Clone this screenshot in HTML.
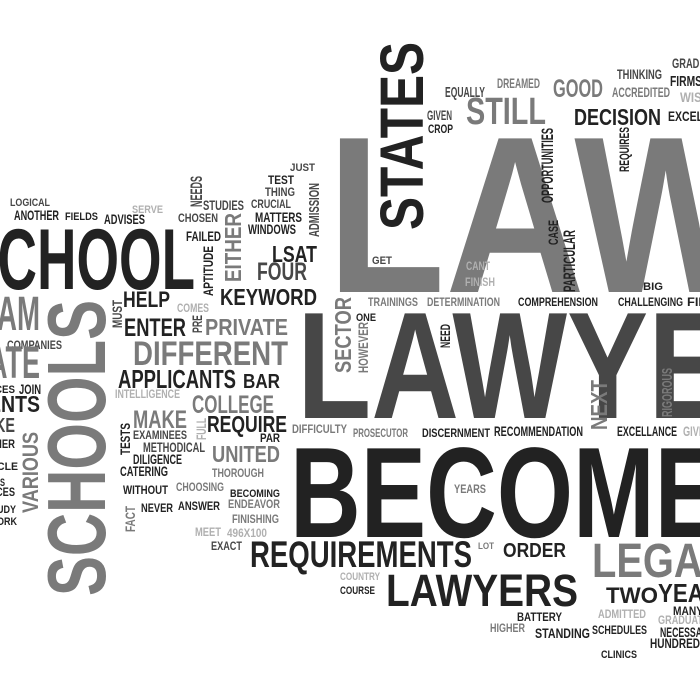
<!DOCTYPE html>
<html><head><meta charset="utf-8"><style>
html,body{margin:0;padding:0;background:#fff;width:700px;height:700px;overflow:hidden}
svg{display:block}
text{font-family:"Liberation Sans Narrow","Liberation Sans",sans-serif;font-weight:bold}
</style></head><body>
<svg id="cloud" width="700" height="700" viewBox="0 0 700 700" xmlns="http://www.w3.org/2000/svg">
<rect width="700" height="700" fill="#fff"/>
</svg>
<script>
// [text, x, y, w, h, colorKey, rotated]
const words = [
["LAW",327,129,430,163,"m",0],
["LAWYER",297,307,520,111,"d",0],
["BECOME",290,443,430,94,"k",0],
["STATES",378,42,45,188,"k",1],
["SCHOOL",-39,226,234,63,"k",0],
["SCHOOLS",45,300,60,296,"m",1],
["REQUIREMENTS",250,540,222,27,"k",0],
["LAWYERS",386,573,192,33,"k",0],
["LEGAL",592,542,135,35,"m",0],
["DIFFERENT",133,340,155,25,"m",0],
["APPLICANTS",118,369,118,19,"k",0],
["KEYWORD",220,288,97,17,"k",0],
["PRIVATE",205,318,83,17,"m",0],
["ENTER",124,318,62,18,"k",0],
["HELP",123,291,47,16,"k",0],
["FOUR",257,262,50,18,"d",0],
["LSAT",272,245,45,17,"k",0],
["EITHER",224,213,17,69,"m",1],
["COLLEGE",192,395,82,18,"m",0],
["BAR",243,373,37,15,"k",0],
["REQUIRE",207,415,80,17,"k",0],
["UNITED",212,445,68,17,"m",0],
["MAKE",133,410,54,18,"m",0],
["ORDER",503,542,63,15,"k",0],
["TWO",606,587,52,16,"k",0],
["YEAR",658,583,62,19,"k",0],
["STILL",466,96,80,28,"m",0],
["DECISION",574,108,87,17,"k",0],
["GOOD",553,79,50,18,"m",0],
["NEXT",590,380,17,50,"m",1],
["SECTOR",334,297,17,76,"m",1],
["DISCERNMENT",422,428,68,9,"k",0],
["RECOMMENDATION",494,426,89,10,"k",0],
["EXCELLANCE",617,426,60,10,"k",0],
["PROSECUTOR",353,428,55,9,"m",0],
["DIFFICULTY",292,424,55,9,"m",0],
["BATTERY",517,612,45,9,"k",0],
["SCHEDULES",592,625,55,9,"k",0],
["STANDING",535,628,55,10,"k",0],
["TRAININGS",368,297,50,9,"m",0],
["DETERMINATION",427,297,73,9,"m",0],
["COMPREHENSION",518,297,80,9,"k",0],
["CHALLENGING",618,297,65,9,"k",0],
["FIE",687,297,20,9,"k",0],
["FIELDS",65,212,33,8,"k",0],
["ANOTHER",14,210,45,10,"k",0],
["LOGICAL",10,198,40,8,"d",0],
["ADVISES",104,214,41,10,"k",0],
["SERVE",132,205,31,8,"l",0],
["NEEDS",190,176,12,31,"d",1],
["STUDIES",203,200,41,10,"d",0],
["CHOSEN",178,213,40,9,"d",0],
["FAILED",186,231,35,10,"k",0],
["WINDOWS",248,224,48,10,"k",0],
["MATTERS",255,212,47,10,"k",0],
["CRUCIAL",251,199,40,9,"d",0],
["THING",265,187,30,9,"d",0],
["TEST",268,175,26,9,"k",0],
["JUST",290,163,25,8,"d",0],
["ADMISSION",308,183,11,54,"d",1],
["APTITUDE",203,246,10,50,"k",1],
["COMES",177,303,32,9,"l",0],
["MUST",112,300,10,28,"d",1],
["PRE",192,315,10,18,"d",1],
["INTELLIGENCE",115,389,65,9,"l",0],
["EXAMINEES",133,430,54,9,"d",0],
["FULL",196,418,10,22,"l",1],
["TESTS",120,423,10,32,"k",1],
["PAR",260,433,20,9,"k",0],
["METHODICAL",143,442,62,10,"d",0],
["DILIGENCE",133,454,49,10,"k",0],
["CATERING",120,466,48,10,"k",0],
["THOROUGH",212,468,52,9,"m",0],
["WITHOUT",123,485,45,9,"k",0],
["CHOOSING",176,482,48,9,"m",0],
["BECOMING",230,489,50,8,"k",0],
["NEVER",141,503,32,9,"k",0],
["ANSWER",178,501,42,9,"k",0],
["ENDEAVOR",228,499,52,9,"m",0],
["FACT",125,506,10,26,"m",1],
["FINISHING",232,514,47,9,"m",0],
["MEET",195,527,26,9,"l",0],
["496X100",227,528,40,9,"l",0],
["EXACT",211,541,31,9,"d",0],
["YEARS",454,484,32,9,"m",0],
["LOT",478,542,16,7,"m",0],
["COUNTRY",340,572,40,8,"l",0],
["COURSE",340,586,35,8,"k",0],
["HIGHER",490,623,35,9,"m",0],
["ADMITTED",598,609,48,9,"l",0],
["CLINICS",601,650,36,8,"k",0],
["HUNDRED",650,638,50,10,"k",0],
["GRADUAT",658,615,45,9,"l",0],
["NECESSA",660,627,42,10,"k",0],
["MANY",673,606,30,9,"k",0],
["EQUALLY",445,86,40,11,"d",0],
["DREAMED",497,78,43,10,"m",0],
["GIVEN",427,110,25,10,"d",0],
["CROP",428,124,25,9,"k",0],
["GET",372,256,20,8,"d",0],
["CANT",466,261,24,9,"l",0],
["FINISH",465,277,30,9,"l",0],
["THINKING",617,69,45,10,"d",0],
["ACCREDITED",612,87,58,10,"m",0],
["FIRMS",670,75,32,11,"k",0],
["GRADI",672,58,30,10,"d",0],
["BIG",643,282,20,8,"k",0],
["EXCEL",668,111,35,10,"k",0],
["WISI",680,92,25,10,"l",0],
["ONE",356,313,20,8,"k",0],
["HOWEVER",358,322,10,51,"m",1],
["NEED",440,324,10,24,"k",1],
["CASE",548,220,10,25,"k",1],
["PARTICULAR",563,230,12,62,"k",1],
["REQUIRES",619,127,10,45,"k",1],
["OPPORTUNITIES",541,128,12,75,"k",1],
["VARIOUS",22,432,16,81,"m",1],
["RIGOROUS",661,368,11,49,"m",1],
["GIVE",683,426,22,10,"l",0],
["COMPANIES",7,340,55,9,"d",0],
["JOIN",19,384,22,10,"k",0],
["AM",-3,295,43,35,"m",0],
["ATE",-12,345,52,33,"m",0],
["CES",-5,385,20,8,"k",0],
["ENTS",-12,395,52,17,"k",0],
["KE",-5,417,20,15,"d",0],
["NER",-5,439,20,9,"k",0],
["CLE",-3,462,21,8,"k",0],
["S",0,478,5,8,"k",0],
["CES",-4,487,19,9,"k",0],
["UDY",-3,505,19,8,"k",0],
["ORK",-3,517,20,8,"k",0]
];
const colorKeys = {k:"#222222", d:"#474747", m:"#7a7a7a", l:"#b0b0b0"};
const svg = document.getElementById('cloud');
const NS = "http://www.w3.org/2000/svg";
words.forEach(function(wd, i){
  const [t,x,y,w,h,c,r] = wd;
  const el = document.createElementNS(NS, 'text');
  
  
  const cap = r ? w : h;
  const len = r ? h : w;
  el.setAttribute('font-size', (cap / 0.73).toFixed(2));
  el.setAttribute('textLength', len);
  el.setAttribute('lengthAdjust', 'spacingAndGlyphs');
  el.setAttribute('fill', colorKeys[c]);
  if (r) {
    el.setAttribute('transform', 'translate(' + (x + w) + ',' + (y + h) + ') rotate(-90)');
    el.setAttribute('x', 0); el.setAttribute('y', 0);
  } else {
    el.setAttribute('x', x); el.setAttribute('y', y + h);
  }
  el.textContent = t;
  svg.appendChild(el);
});
</script>
</body></html>
